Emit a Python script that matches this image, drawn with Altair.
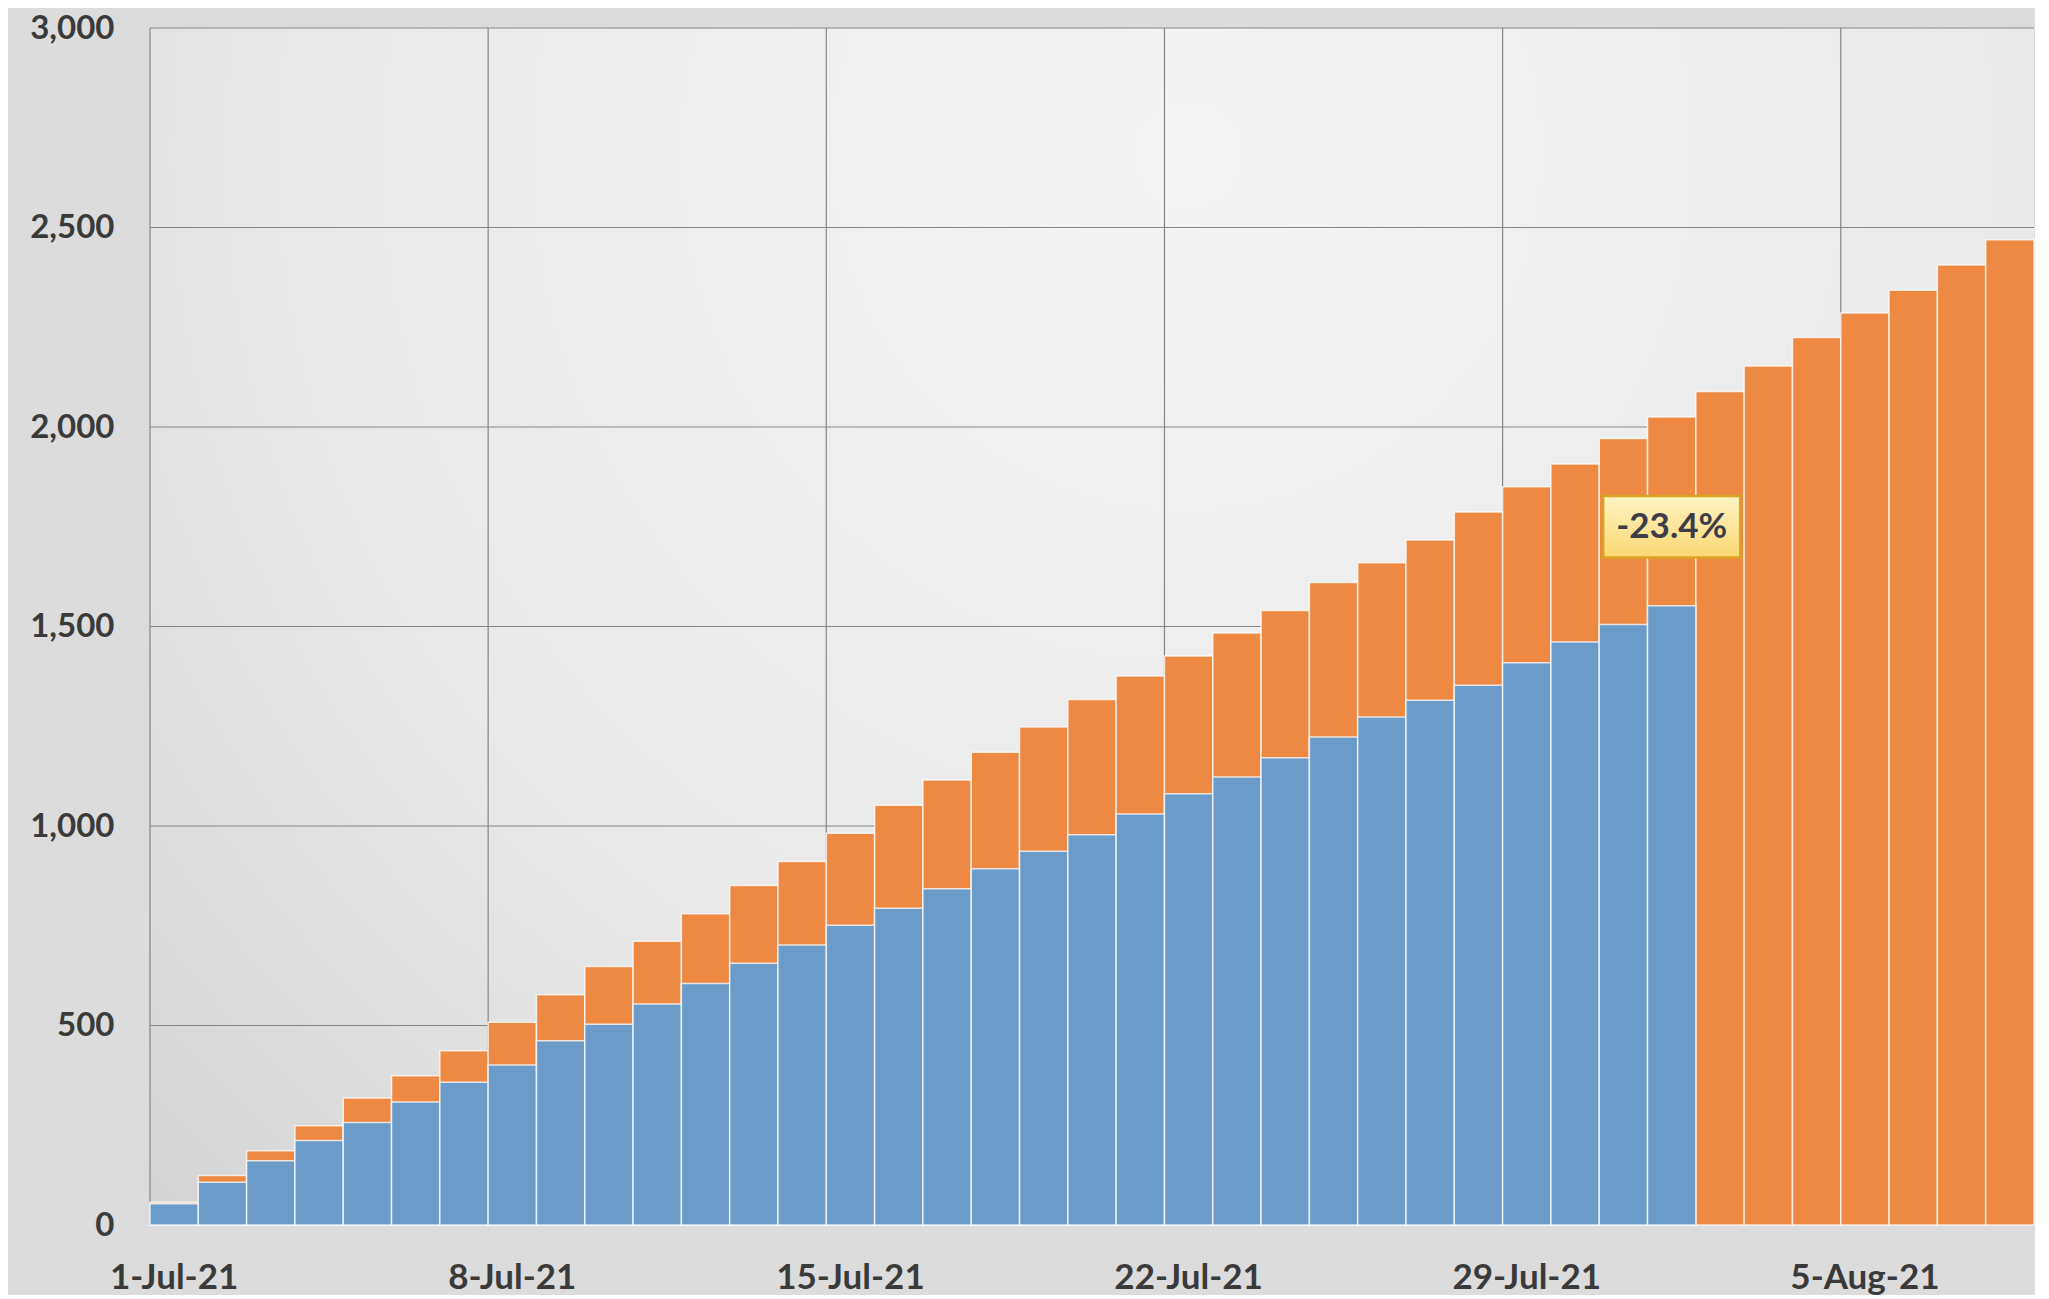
import altair as alt
import pandas as pd

# ---- data ----
dates = [
    "1-Jul-21", "2-Jul-21", "3-Jul-21", "4-Jul-21", "5-Jul-21", "6-Jul-21", "7-Jul-21",
    "8-Jul-21", "9-Jul-21", "10-Jul-21", "11-Jul-21", "12-Jul-21", "13-Jul-21", "14-Jul-21",
    "15-Jul-21", "16-Jul-21", "17-Jul-21", "18-Jul-21", "19-Jul-21", "20-Jul-21", "21-Jul-21",
    "22-Jul-21", "23-Jul-21", "24-Jul-21", "25-Jul-21", "26-Jul-21", "27-Jul-21", "28-Jul-21",
    "29-Jul-21", "30-Jul-21", "31-Jul-21", "1-Aug-21", "2-Aug-21", "3-Aug-21", "4-Aug-21",
    "5-Aug-21", "6-Aug-21", "7-Aug-21", "8-Aug-21",
]
target = [
    57, 124, 186, 249, 318, 374, 437, 508, 577, 648, 711, 780, 851, 911, 982, 1052,
    1115, 1185, 1248, 1317, 1376, 1426, 1484, 1540, 1610, 1660, 1717, 1787, 1850,
    1907, 1971, 2025, 2089, 2153, 2224, 2286, 2343, 2406, 2469,
]
actual = [
    53, 107, 161, 212, 257, 308, 358, 401, 462, 503, 554, 605, 656, 702, 751, 794,
    843, 893, 937, 978, 1030, 1081, 1123, 1171, 1223, 1273, 1315, 1353, 1409, 1461,
    1505, 1552,
]
x_tick_labels = ["1-Jul-21", "8-Jul-21", "15-Jul-21", "22-Jul-21", "29-Jul-21", "5-Aug-21"]
y_ticks = [0, 500, 1000, 1500, 2000, 2500, 3000]
ann_date = ["1-Aug-21"]
ann_value = [1750]
ann_text = ["-23.4%"]

# ---- styling ----
ORANGE = "#ee8944"
BLUE = "#6b9bc9"
GRID = "#858585"
FONT = "Lato"
LABEL_COLOR = "#3a3a3a"

df_t = pd.DataFrame({"date": dates, "target": target})
df_a = pd.DataFrame({"date": dates[: len(actual)], "actual": actual})
df_ann = pd.DataFrame({"date": ann_date, "value": ann_value, "text": ann_text})

xscale = alt.Scale(domain=dates, paddingInner=0, paddingOuter=0)
yscale = alt.Scale(domain=[0, 3000], nice=False)

xaxis = alt.Axis(
    values=x_tick_labels, labelAngle=0, ticks=False, tickSize=0, domain=False, grid=False,
    labelFont=FONT, labelFontWeight="bold", labelFontSize=35, labelColor=LABEL_COLOR,
    labelPadding=35, title=None,
)
yaxis = alt.Axis(
    values=y_ticks, format=",.0f", ticks=False, tickSize=0, domain=False, grid=False,
    labelFont=FONT, labelFontWeight="bold", labelFontSize=33, labelColor=LABEL_COLOR,
    labelPadding=36, minExtent=142, maxExtent=142, title=None,
)

bg = alt.Chart(pd.DataFrame({"k": [0]})).mark_rect(
    fill={
        "gradient": "radial",
        "x1": 0.55, "y1": 0.25, "r1": 0,
        "x2": 0.55, "y2": 0.25, "r2": 0.85,
        "stops": [
            {"offset": 0, "color": "#f4f4f4"},
            {"offset": 0.55, "color": "#e9e9e9"},
            {"offset": 1, "color": "#d0d0d0"},
        ],
    }
).encode(x=alt.value(0), x2=alt.value("width"), y=alt.value(0), y2=alt.value("height"))

hgrid = alt.Chart(pd.DataFrame({"v": y_ticks[1:]})).mark_rule(
    color=GRID, strokeWidth=1.2
).encode(y=alt.Y("v:Q", scale=yscale, axis=yaxis))

vgrid = alt.Chart(pd.DataFrame({"date": x_tick_labels})).mark_rule(
    color=GRID, strokeWidth=1.2
).encode(x=alt.X("date:O", scale=xscale, axis=xaxis, bandPosition=0))

orange_bars = alt.Chart(df_t).mark_bar(
    color=ORANGE, stroke="#ffffff", strokeWidth=1.5, strokeOpacity=0.75
).encode(
    x=alt.X("date:O", scale=xscale, axis=xaxis),
    y=alt.Y("target:Q", scale=yscale, axis=yaxis),
)

blue_bars = alt.Chart(df_a).mark_bar(
    color=BLUE, stroke="#ffffff", strokeWidth=1.5, strokeOpacity=0.75
).encode(
    x=alt.X("date:O", scale=xscale, axis=xaxis),
    y=alt.Y("actual:Q", scale=yscale, axis=yaxis),
)

box = alt.Chart(df_ann).mark_point(
    shape="M-1,-0.45L1,-0.45L1,0.45L-1,0.45Z",
    size=137 * 137,
    filled=True,
    fill={
        "gradient": "linear", "x1": 0, "y1": 0, "x2": 0, "y2": 1,
        "stops": [
            {"offset": 0, "color": "#fff4c4"},
            {"offset": 1, "color": "#fbd772"},
        ],
    },
    stroke="#d9a521",
    strokeWidth=2.5,
    opacity=1,
    fillOpacity=1,
).encode(
    x=alt.X("date:O", scale=xscale, axis=xaxis),
    y=alt.Y("value:Q", scale=yscale, axis=yaxis),
)

label = alt.Chart(df_ann).mark_text(
    font=FONT, fontWeight="bold", fontSize=35, color="#3d3d4a", baseline="middle", align="center"
).encode(
    x=alt.X("date:O", scale=xscale, axis=xaxis),
    y=alt.Y("value:Q", scale=yscale, axis=yaxis),
    text="text:N",
)

chart = alt.layer(bg, hgrid, vgrid, orange_bars, blue_bars, box, label).properties(
    width=1884,
    height=1197,
    padding={"left": 0, "top": 4, "right": 0, "bottom": 0},
    background="#dcdcdc",
).configure_view(stroke=None)

chart.save("out.html", embed_options={"renderer": "svg", "actions": False})
